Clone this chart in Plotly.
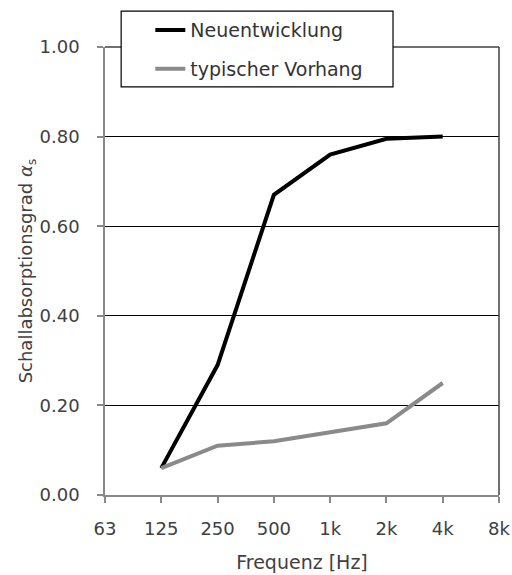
import plotly.graph_objects as go

categories = ["63", "125", "250", "500", "1k", "2k", "4k", "8k"]
freqs = ["125", "250", "500", "1k", "2k", "4k"]
neuentwicklung = [0.06, 0.29, 0.67, 0.76, 0.795, 0.80]
typischer_vorhang = [0.06, 0.11, 0.12, 0.14, 0.16, 0.25]
y_ticks = [0.0, 0.2, 0.4, 0.6, 0.8, 1.0]

font = "DejaVu Sans"
fig = go.Figure()
fig.add_trace(go.Scatter(x=freqs, y=neuentwicklung, mode="lines", name="Neuentwicklung",
                         line=dict(color="#000000", width=4), legendgroup="a"))
fig.add_trace(go.Scatter(x=freqs, y=typischer_vorhang, mode="lines", name="typischer Vorhang",
                         line=dict(color="#8a8a8a", width=4), legendgroup="b"))

fig.update_layout(
    width=512, height=575,
    margin=dict(l=105, r=13, t=47, b=80, autoexpand=False),
    plot_bgcolor="white", paper_bgcolor="white",
    font=dict(family=font, size=18, color="#404040"),
    showlegend=True,
    legend=dict(x=0.115, y=1.08, xanchor="left", yanchor="top",
                bgcolor="rgba(0,0,0,0)", borderwidth=0,
                tracegroupgap=11, traceorder="grouped",
                font=dict(size=19, color="#333333"), itemwidth=30),
    xaxis=dict(type="category", categoryorder="array", categoryarray=categories,
               range=[0, 7], showgrid=False, showline=True, linecolor="#888888", linewidth=1.5,
               ticks="outside", ticklen=6, tickcolor="#888888", tickwidth=1.5,
               tickmode="array", tickvals=categories, ticktext=categories,
               ticklabelstandoff=11,
               title=dict(text="Frequenz [Hz]", font=dict(size=19, color="#404040"), standoff=17),
               zeroline=False, automargin=False),
    yaxis=dict(range=[0, 1.0], tickvals=y_ticks, tickformat=".2f",
               showgrid=True, gridcolor="#000000", gridwidth=1.2,
               showline=True, linecolor="#888888", linewidth=1.5,
               ticks="outside", ticklen=6, tickcolor="#888888", tickwidth=1.5,
               ticklabelstandoff=14,
               title=dict(text="Schallabsorptionsgrad <i>α</i><sub>s</sub>", font=dict(size=18, color="#404040"), standoff=2),
               zeroline=False, automargin=False),
    shapes=[
        dict(type="line", xref="paper", yref="paper", x0=1, x1=1, y0=0, y1=1,
             line=dict(color="#404040", width=1.5)),
        dict(type="line", xref="paper", yref="paper", x0=0, x1=1, y0=1, y1=1,
             line=dict(color="#404040", width=1.5)),
        dict(type="rect", xref="paper", yref="paper", x0=0.041, x1=0.731, y0=0.911, y1=1.080,
             fillcolor="white", line=dict(color="#000000", width=1.2), layer="above"),
    ],
)
fig.write_html("out.html", config={"displayModeBar": False},
               post_script="document.body.style.margin='0';document.body.style.overflow='hidden';")
